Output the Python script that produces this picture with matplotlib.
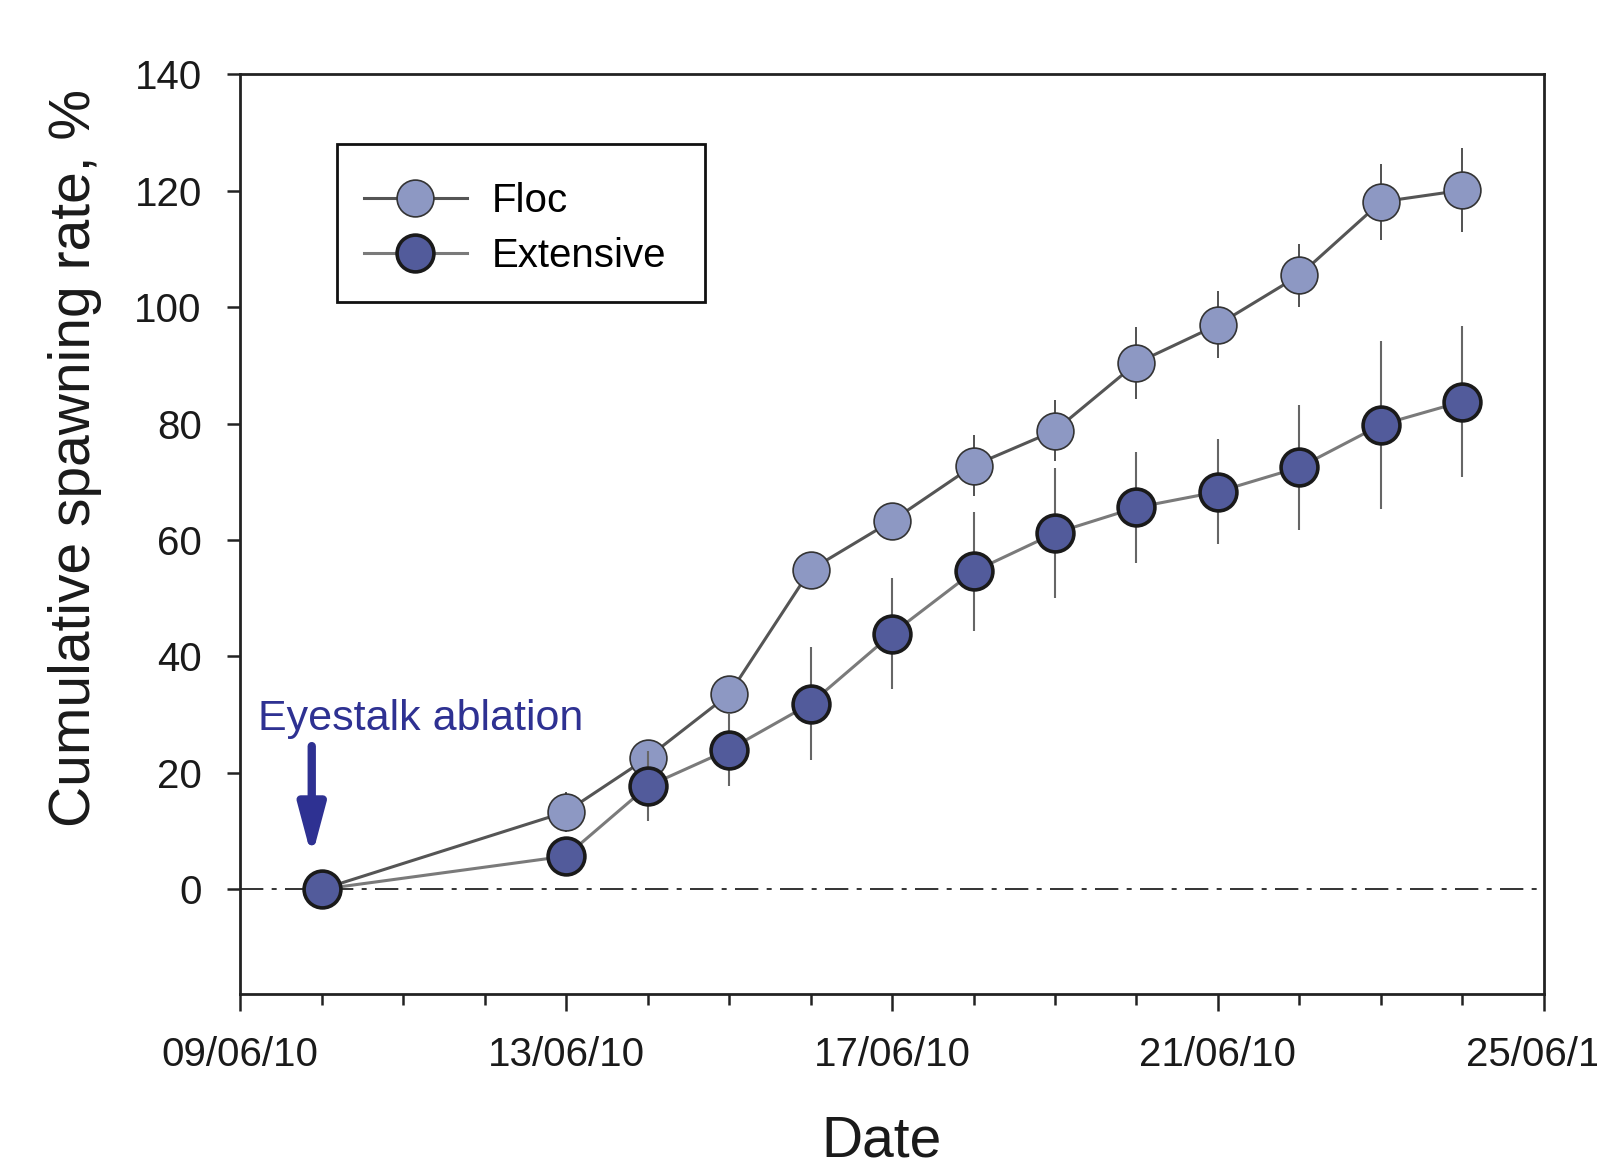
import numpy as np
import pandas as pd
import matplotlib
matplotlib.use("Agg")
import matplotlib.pyplot as plt
import matplotlib.dates as mdates
from matplotlib.patches import Rectangle

plt.rcParams['font.family'] = ['Liberation Sans', 'DejaVu Sans']

# data
dates = ['10/06/10', '13/06/10', '14/06/10', '15/06/10', '16/06/10', '17/06/10', '18/06/10',
         '19/06/10', '20/06/10', '21/06/10', '22/06/10', '23/06/10', '24/06/10']
floc = [0.0, 13.3, 22.6, 33.5, 54.9, 63.3, 72.8, 78.8, 90.4, 97.0, 105.5, 118.1, 120.1]
floc_err = [0.0, 3.5, 3.0, 3.0, 2.5, 2.5, 5.3, 5.3, 6.2, 5.8, 5.4, 6.5, 7.2]
extensive = [0.0, 5.7, 17.7, 24.0, 31.9, 43.9, 54.6, 61.2, 65.6, 68.3, 72.5, 79.8, 83.8]
extensive_err = [0.0, 0.0, 6.0, 6.3, 9.7, 9.5, 10.2, 11.2, 9.6, 9.0, 10.7, 14.4, 12.9]

x = pd.to_datetime(dates, format='%d/%m/%y')
d0 = mdates.date2num(pd.Timestamp('2010-06-09'))

fig = plt.figure(figsize=(15.97, 11.59), dpi=100)
ax = fig.add_axes([0.1503, 0.1423, 0.8165, 0.7935])

c_floc = '#8d98c3'
c_ext = '#525b9b'

ax.errorbar(x, floc, yerr=floc_err, fmt='none', ecolor='#333333', elinewidth=1.2,
            capsize=0, zorder=2)
ax.plot(x, floc, '-o', color='#555555', lw=2.2, markersize=26.5,
        markerfacecolor=c_floc, markeredgecolor='#333333', markeredgewidth=1.2,
        label='Floc', zorder=3)
ax.errorbar(x, extensive, yerr=extensive_err, fmt='none', ecolor='#666666', elinewidth=1.5,
            capsize=0, zorder=4)
ax.plot(x, extensive, '-o', color='#7a7a7a', lw=2.2, markersize=26.5,
        markerfacecolor=c_ext, markeredgecolor='#1a1a1a', markeredgewidth=2.6,
        label='Extensive', zorder=5)

ax.axhline(0, color='#111111', lw=1.2, dashes=(14, 5, 3, 5), zorder=1)

ax.set_xlim(pd.Timestamp('2010-06-09'), pd.Timestamp('2010-06-25'))
ax.set_ylim(-18, 140)
ax.set_yticks(np.arange(0, 141, 20))
ax.xaxis.set_major_locator(mdates.DayLocator(bymonthday=[9, 13, 17, 21, 25]))
ax.xaxis.set_minor_locator(mdates.DayLocator())
ax.xaxis.set_major_formatter(mdates.DateFormatter('%d/%m/%y'))

for s in ax.spines.values():
    s.set_linewidth(2.0)
    s.set_color('#222222')
ax.tick_params(axis='both', which='major', labelsize=29, width=1.8, color='#222222',
               labelcolor='#1a1a1a', pad=18)
ax.tick_params(axis='x', which='major', length=12)
ax.tick_params(axis='x', which='minor', length=8, width=1.8, color='#222222')
ax.tick_params(axis='y', which='major', length=9.5)

ax.set_ylabel('Cumulative spawning rate, %', fontsize=41, color='#1a1a1a')
ax.yaxis.set_label_coords(-0.106, 0.5825)
ax.set_xlabel('Date', fontsize=41, color='#1a1a1a')
ax.xaxis.set_label_coords(0.4923, -0.1305)

ax.annotate('', xy=(d0 + 0.88, 5.5), xytext=(d0 + 0.88, 24.6),
            arrowprops=dict(arrowstyle='-|>,head_length=1.5,head_width=0.4',
                            mutation_scale=20, color='#2e3192', lw=6,
                            shrinkA=0, shrinkB=0))
ax.text(d0 + 0.22, 29.2, 'Eyestalk ablation', fontsize=31, color='#2e3192',
        va='center', ha='left')

# legend entries without frame, box drawn separately
leg = ax.legend(loc='center left', bbox_to_anchor=(0.0948, 0.8327), fontsize=29,
                frameon=False, handlelength=2.57, handletextpad=0.62, labelspacing=0.43,
                borderpad=0, borderaxespad=0)
ax.add_patch(Rectangle((0.0744, 0.753), 0.282, 0.1717, transform=ax.transAxes,
                       fill=False, edgecolor='#111111', lw=2.0, zorder=6))

fig.savefig('out.png', dpi=100)
